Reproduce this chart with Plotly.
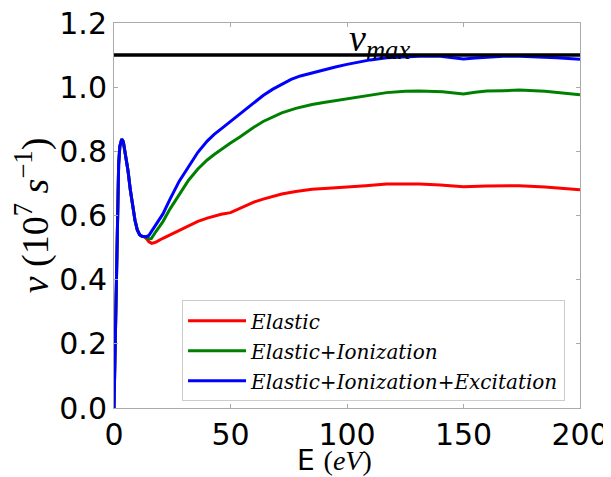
import plotly.graph_objects as go

# shared low-energy part (all three curves coincide here)
E_low = [0, 0.5, 1, 1.5, 2, 2.5, 3.3, 4, 5, 6, 7, 8, 9, 10, 11, 12, 13]
v_low = [0.0, 0.2, 0.45, 0.65, 0.76, 0.815, 0.838, 0.83, 0.79, 0.74, 0.68, 0.625,
         0.585, 0.555, 0.54, 0.535, 0.534]

E_blue_hi = [14, 15, 17, 19, 21, 24, 28, 32, 36, 40, 43, 46, 50, 54, 57, 60, 64, 68, 72,
             76, 80, 85, 90, 95, 100, 105, 110, 117, 125, 131, 140, 145, 150, 155, 160,
             167, 174, 180, 190, 200]
v_blue_hi = [0.534, 0.538, 0.56, 0.583, 0.605, 0.65, 0.707, 0.752, 0.797, 0.832, 0.853,
             0.87, 0.893, 0.915, 0.934, 0.952, 0.974, 0.993, 1.009, 1.024, 1.035, 1.045,
             1.055, 1.063, 1.071, 1.078, 1.085, 1.092, 1.095, 1.096, 1.096, 1.092, 1.088,
             1.091, 1.094, 1.096, 1.096, 1.095, 1.092, 1.087]

E_green_hi = [14, 15, 16, 18, 21, 24, 28, 32, 36, 40, 43, 46, 50, 54, 57, 60, 64, 68, 72,
              78, 85, 90, 95, 100, 108, 117, 125, 131, 141, 150, 155, 160, 167, 174, 185, 200]
v_green_hi = [0.532, 0.527, 0.528, 0.55, 0.581, 0.62, 0.667, 0.71, 0.745, 0.773, 0.79,
              0.806, 0.826, 0.845, 0.861, 0.875, 0.893, 0.907, 0.92, 0.934, 0.946, 0.952,
              0.958, 0.963, 0.974, 0.983, 0.987, 0.988, 0.986, 0.979, 0.984, 0.988, 0.989,
              0.991, 0.987, 0.976]

E_red_hi = [14, 15, 16.2, 18, 21, 24, 28, 32, 36, 40, 43, 46, 50, 54, 57, 60, 64, 68, 72,
            78, 85, 92, 100, 108, 117, 125, 131, 140, 150, 160, 174, 185, 200]
v_red_hi = [0.527, 0.518, 0.513, 0.517, 0.529, 0.54, 0.555, 0.568, 0.582, 0.592, 0.599,
            0.604, 0.609, 0.622, 0.633, 0.642, 0.651, 0.659, 0.667, 0.675, 0.682, 0.685,
            0.688, 0.693, 0.698, 0.699, 0.698, 0.695, 0.690, 0.692, 0.693, 0.689, 0.680]

nu_max = 1.1
x_ticks = [0, 50, 100, 150, 200]
y_ticks = [0.0, 0.2, 0.4, 0.6, 0.8, 1.0, 1.2]

names = ["<i>Elastic</i>",
         "<i>Elastic</i>+<i>Ionization</i>",
         "<i>Elastic</i>+<i>Ionization</i>+<i>Excitation</i>"]
colors = ["#ff0000", "#008000", "#0000ff"]

series = [(E_low + E_red_hi, v_low + v_red_hi),
          (E_low + E_green_hi, v_low + v_green_hi),
          (E_low + E_blue_hi, v_low + v_blue_hi)]

fig = go.Figure()
for i, ((ex, vy), nm, c) in enumerate(zip(series, names, colors)):
    fig.add_trace(go.Scatter(x=ex, y=vy, mode="lines", name=nm, legendgroup=str(i),
                             line=dict(color=c, width=3)))

fig.add_trace(go.Scatter(x=[0, 200], y=[nu_max, nu_max], mode="lines", showlegend=False,
                         line=dict(color="black", width=3.5)))

fig.add_annotation(x=114, y=nu_max, xref="x", yref="y", yanchor="bottom", yshift=-12,
                   text="<i>ν</i><sub><i>max</i></sub>", showarrow=False,
                   font=dict(family="Liberation Serif", size=38, color="black"))

# x-axis title as an annotation so it stays inside the visible window
fig.add_annotation(x=0.474, y=0, xref="paper", yref="paper", xanchor="center",
                   yanchor="top", yshift=-34, showarrow=False,
                   text="E <span style='font-family:Liberation Serif'>(<i>eV</i>)</span>",
                   font=dict(family="DejaVu Sans", size=28, color="black"))

axis_common = dict(showgrid=False, zeroline=False, showline=True, linecolor="#aaaaaa",
                   linewidth=1, mirror="ticks", ticks="inside", ticklen=4,
                   tickcolor="#aaaaaa", automargin=False, ticklabeloverflow="allow",
                   tickfont=dict(family="DejaVu Sans", size=30, color="black"))

fig.update_layout(
    width=611, height=477,
    margin=dict(l=106, r=39, t=15, b=77),
    paper_bgcolor="white", plot_bgcolor="white",
    xaxis=dict(range=[0, 200], tickvals=x_ticks, ticktext=[str(t) for t in x_ticks],
               **axis_common),
    yaxis=dict(range=[0, 1.2], tickvals=y_ticks, ticktext=[f"{t:.1f}" for t in y_ticks],
               title=dict(text="<i>ν</i> (10<sup>7</sup> <i>s</i><sup>−1</sup>)",
                          font=dict(family="Liberation Serif", size=38, color="black"),
                          standoff=2),
               **axis_common),
    legend=dict(x=0.146, y=0.28, xanchor="left", yanchor="top",
                bordercolor="#cccccc", borderwidth=1, bgcolor="white",
                font=dict(family="DejaVu Serif", size=20, color="black"),
                tracegroupgap=1, itemwidth=58),
    showlegend=True,
)

fig.write_html("out.html")
